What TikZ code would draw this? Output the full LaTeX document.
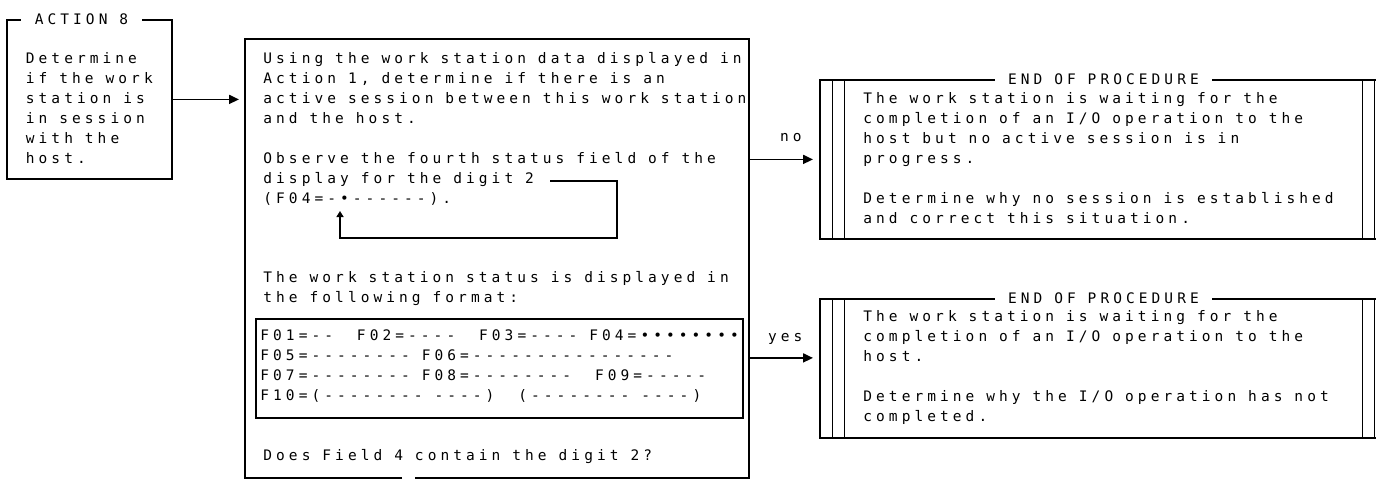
\documentclass[tikz,border=0pt]{standalone}
\usepackage{fontspec}
\usetikzlibrary{arrows.meta}
\newfontfamily\scanmono[LetterSpace=28]{DejaVu Sans Mono}
\newcommand\scantext{\scanmono\fontsize{7.25}{10}\selectfont
  \fontdimen2\font=5.98pt \fontdimen3\font=0pt \fontdimen4\font=0pt }
\tikzset{frame/.style={draw, line width=0.9pt, inner sep=0pt}}
\tikzset{txt/.style={font=\scantext, align=left, inner sep=0pt}}
\tikzset{heading/.style={font=\scantext, fill=white, inner xsep=6.75pt, inner ysep=1pt,
                         text height=5.3pt, text depth=0pt}}
\tikzset{
  endbox/.style={frame, minimum width=283.5pt, append after command={
                 [line width=0.9pt]
                 ([xshift=6.5pt]\tikzlastnode.north west) edge ([xshift=6.5pt]\tikzlastnode.south west)
                 ([xshift=12.5pt]\tikzlastnode.north west) edge ([xshift=12.5pt]\tikzlastnode.south west)
                 ([xshift=-6.5pt]\tikzlastnode.north east) edge ([xshift=-6.5pt]\tikzlastnode.south east)
                 ([xshift=-12.5pt]\tikzlastnode.north east) edge ([xshift=-12.5pt]\tikzlastnode.south east)
                }},
}

\begin{document}
\begin{tikzpicture}[x=0.5pt, y=-0.5pt,
  arr/.style={-{Triangle[length=5pt, width=4.5pt]}, line width=0.9pt, shorten >=3pt},
  lab/.style={font=\scantext, inner sep=0pt, anchor=base},
]
  \useasboundingbox (0,0) rectangle (1376,479);

  % ---- Action 8 ----
  \node[frame, txt, anchor=north west, inner xsep=9.5pt,
        text height=72pt, text depth=7.5pt] (action) at (6,19)
      {Determine\\if the work\\station is\\in session\\with the\\host.};
  \node[heading] (actiontitle) at ([xshift=37.75pt]action.north west) {ACTION 8};

  % ---- Check box ----
  \node[anchor=north west, inner sep=0pt, minimum width=251.5pt, minimum height=219pt]
       (check) at (245,39) {};
  \draw[line width=0.9pt] ([xshift=78.5pt]check.south west) -- (check.south west)
    -- (check.north west) -- (check.north east) -- (check.south east)
    -- ([xshift=85pt]check.south west);
  \node[txt, anchor=base west] (ask) at (263,203)
      {Using the work station data displayed in\\
       Action 1, determine if there is an\\
       active session between this work station\\
       and the host.\\[10pt]
       Observe the fourth status field of the\\
       display for the digit 2\\
       (F04=-•------).};
  \coordinate (loopfrom) at (550,181);
  \coordinate (loopto) at (340,211);
  \draw[line width=0.9pt, -{Triangle[length=3pt, width=3.5pt]}]
    (loopfrom) -- (617,181) |- (340,238) -- (loopto);
  \node[txt, anchor=base west] (status) at (263,302)
      {The work station status is displayed in\\the following format:};
  \node[frame, txt, anchor=north west, inner xsep=2.25pt,
        text height=41pt, text depth=8.5pt] (fields) at (255,318)
      {F01=--~~F02=----~~F03=---- F04=••••••••\\
       F05=-------- F06=----------------\\
       F07=-------- F08=--------~~F09=-----\\
       F10=(-------- ----)~~(-------- ----)};
  \node[txt, anchor=base west] (question) at (263,460) {Does Field 4 contain the digit 2?};

  % ---- End of procedure boxes ----
  \node[endbox, anchor=north west, minimum height=79.5pt] (endno) at (819,79) {};
  \node[heading] (notitle) at (endno.north) {END OF PROCEDURE};
  \node[txt, anchor=base west] (nomsg) at (863,223)
      {The work station is waiting for the\\
       completion of an I/O operation to the\\
       host but no active session is in\\
       progress.\\[10pt]
       Determine why no session is established\\
       and correct this situation.};
  \node[endbox, anchor=north west, minimum height=69.5pt] (endyes) at (819,298) {};
  \node[heading] (yestitle) at (endyes.north) {END OF PROCEDURE};
  \node[txt, anchor=base west] (yesmsg) at (863,421)
      {The work station is waiting for the\\
       completion of an I/O operation to the\\
       host.\\[10pt]
       Determine why the I/O operation has not\\
       completed.};

  % ---- arrows ----
  \draw[arr] (action.east) -- (action.east -| check.west);
  \draw[arr] (check.east |- endno.west) -- node[lab, pos=0.6, yshift=9pt] {no} (endno.west);
  \draw[arr] ([yshift=5.25pt]endyes.west -| check.east)
    -- node[lab, pos=0.52, yshift=8pt] {yes} ([yshift=5.25pt]endyes.west);
\end{tikzpicture}
\end{document}
